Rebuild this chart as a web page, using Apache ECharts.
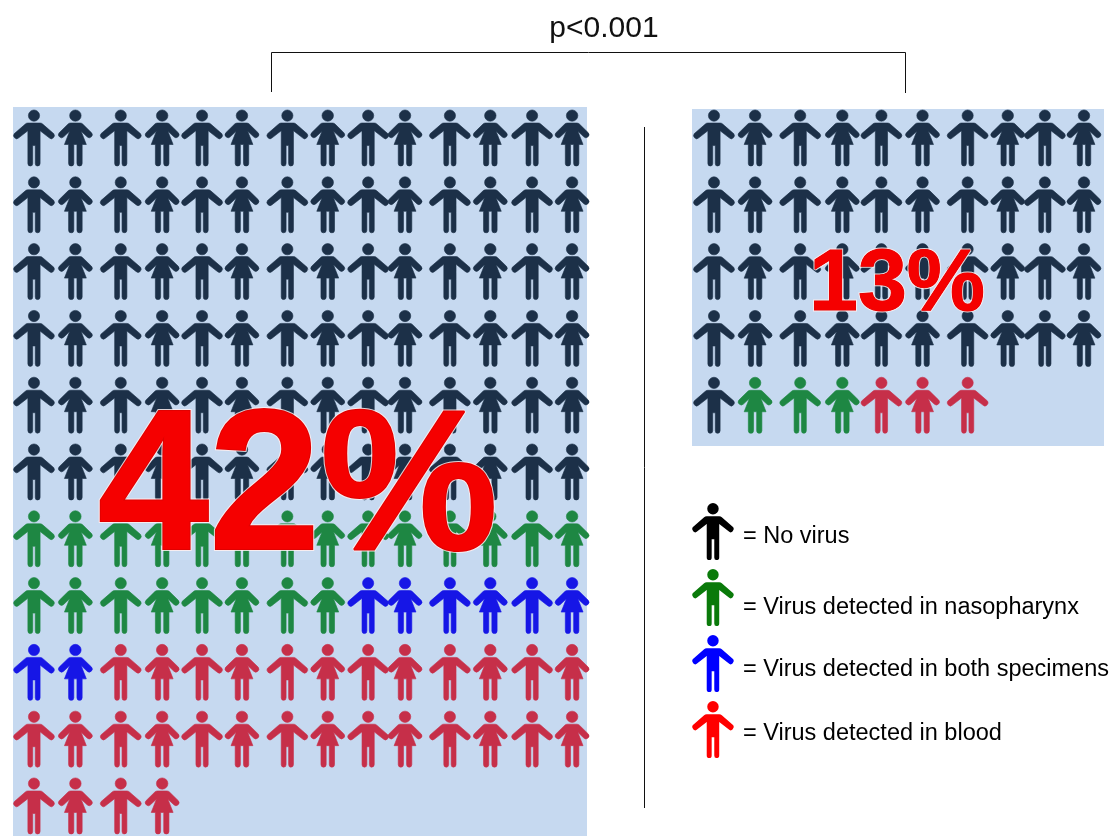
<!DOCTYPE html>
<html>
<head>
<meta charset="utf-8">
<style>
  html, body { margin: 0; background: #fff; }
  #main { width: 1114px; height: 836px; }
</style>
<script src="https://cdn.jsdelivr.net/npm/echarts@6/dist/echarts.min.js"></script>
</head>
<body>
<div id="main"></div>
<script>
// virus status, same order everywhere
const statusNames = ["No virus", "Virus detected in nasopharynx", "Virus detected in both specimens", "Virus detected in blood"];
// people per status in each group, counted off the picture
const leftCounts = [84, 22, 8, 30];
const rightCounts = [41, 3, 0, 3];
const leftColumns = 14;
const rightColumns = 10;
const leftPercent = "42%";
const rightPercent = "13%";
const pLabel = "p<0.001";

// styling only
const markColors = ["#1c3048", "#1e8743", "#1616e6", "#c62f49"];
const legendColors = ["#000000", "#0a7a0a", "#0000ff", "#ff0000"];
const panelColor = "#c6d9f0";
// the columns in the source are not evenly spaced, px nudges
const leftNudge = [0, 0, 4, 4, 2.5, 1, 5, 4, 3, -1.5, 2, 1, 1.4, 0];
const rightNudge = [0, 0, 4, 5, 3, 3, 7, 6, 2, 0];
// legend labels sit a little lower than their icons, not by the same amount
const legendTextDrop = [5, 10, 6, 4];

const male = "path://M29 11.5a11 11 0 1 0 22 0a11 11 0 1 0 -22 0zM28 26L52 26Q55 26 57 28L79 47Q82 51 78 55Q74 59 70 55L52 41L52 105Q52 110 46.5 110Q42.5 110 42.5 105L42.5 70L37.5 70L37.5 105Q37.5 110 33 110Q28 110 28 105L28 41L10 55Q6 59 2 55Q-2 51 1 47L23 28Q25 26 28 26Z";
const female = "path://M22 11.5a11 11 0 1 0 22 0a11 11 0 1 0 -22 0zM24 26L42 26Q45 26 47 28L64 45Q67.5 49.5 63.5 53Q59.5 57 55.5 53L44 42L54 68L46 68L46 105Q46 110 41 110Q36 110 36 105L36 68L30 68L30 105Q30 110 25 110Q20 110 20 105L20 68L12 68L22 42L10.5 53Q6.5 57 2.5 53Q-1.5 49.5 2 45L19 28Q21 26 24 26Z";

// people fill the panel row by row, male and female take turns
function buildSeries(counts, columns, nudge, axisIndex) {
  let n = 0;
  return counts.map(function (count, s) {
    const points = [];
    for (let i = 0; i < count; i++, n++) {
      const col = n % columns;
      const isMale = col % 2 === 0;
      points.push({
        value: [col, Math.floor(n / columns)],
        symbol: isMale ? male : female,
        symbolSize: isMale ? [41, 56] : [34, 56],
        symbolOffset: [nudge[col], 0]
      });
    }
    return {
      name: statusNames[s],
      type: "scatter",
      xAxisIndex: axisIndex,
      yAxisIndex: axisIndex,
      symbolKeepAspect: false,
      itemStyle: { color: markColors[s], opacity: 1, borderColor: markColors[s], borderWidth: 0.6 },
      data: points,
      silent: true
    };
  });
}

function hiddenAxis(gridIndex, min, max, inverse) {
  return { type: "value", gridIndex: gridIndex, min: min, max: max, inverse: inverse, show: false };
}

// pale halo underneath, heavier red on top
function bigText(text, x, y, size, weight) {
  const base = {
    fill: "#f50000",
    text: text,
    font: "bold " + size + "px 'Liberation Sans', Arial, sans-serif",
    textAlign: "center",
    textVerticalAlign: "middle"
  };
  return [
    { type: "text", z: 100, x: x, y: y, style: Object.assign({}, base, { stroke: "rgba(255,240,240,0.85)", lineWidth: weight + 2 }) },
    { type: "text", z: 101, x: x, y: y, style: Object.assign({}, base, { stroke: "#e00000", lineWidth: weight }) }
  ];
}

const legendRich = {};
legendTextDrop.forEach(function (drop, i) {
  legendRich["t" + i] = { fontSize: 23.5, color: "#000", padding: [drop * 2, 0, 0, 4] };
});

const chart = echarts.init(document.getElementById("main"), null, { renderer: "canvas" });

chart.setOption({
  animation: false,
  backgroundColor: "#ffffff",
  textStyle: { fontFamily: "'Liberation Sans', Arial, sans-serif" },
  grid: [
    { left: 13, top: 107, width: 574, height: 729, show: true, backgroundColor: panelColor, borderWidth: 0 },
    { left: 692, top: 109, width: 412, height: 337, show: true, backgroundColor: panelColor, borderWidth: 0 }
  ],
  xAxis: [hiddenAxis(0, -0.507, 13.36, false), hiddenAxis(1, -0.535, 9.487, false)],
  yAxis: [hiddenAxis(0, -0.464, 10.45, true), hiddenAxis(1, -0.434, 4.61, true)],
  legend: {
    orient: "vertical",
    left: 692,
    top: 503,
    padding: 0,
    itemWidth: 42,
    itemHeight: 57,
    itemGap: 9,
    selectedMode: false,
    formatter: function (name) {
      return "{t" + statusNames.indexOf(name) + "|= " + name + "}";
    },
    textStyle: { fontSize: 23.5, color: "#000", rich: legendRich },
    data: statusNames.map(function (name, i) {
      return { name: name, icon: male, itemStyle: { color: legendColors[i], borderWidth: 0 } };
    })
  },
  series: buildSeries(leftCounts, leftColumns, leftNudge, 0).concat(buildSeries(rightCounts, rightColumns, rightNudge, 1)),
  graphic: [
    {
      type: "polyline",
      shape: { points: [[271.5, 92], [271.5, 52.5], [905.5, 52.5], [905.5, 93]] },
      style: { stroke: "#111", lineWidth: 1, fill: null }
    },
    {
      type: "line",
      shape: { x1: 644.5, y1: 127, x2: 644.5, y2: 808 },
      style: { stroke: "#111", lineWidth: 1 }
    },
    {
      type: "text",
      x: 604,
      y: 29,
      style: {
        text: pLabel,
        fill: "#111",
        font: "30px 'Liberation Sans', Arial, sans-serif",
        textAlign: "center",
        textVerticalAlign: "middle"
      }
    }
  ].concat(bigText(leftPercent, 298, 494, 200, 2), bigText(rightPercent, 897, 286, 88, 1))
});
</script>
</body>
</html>
